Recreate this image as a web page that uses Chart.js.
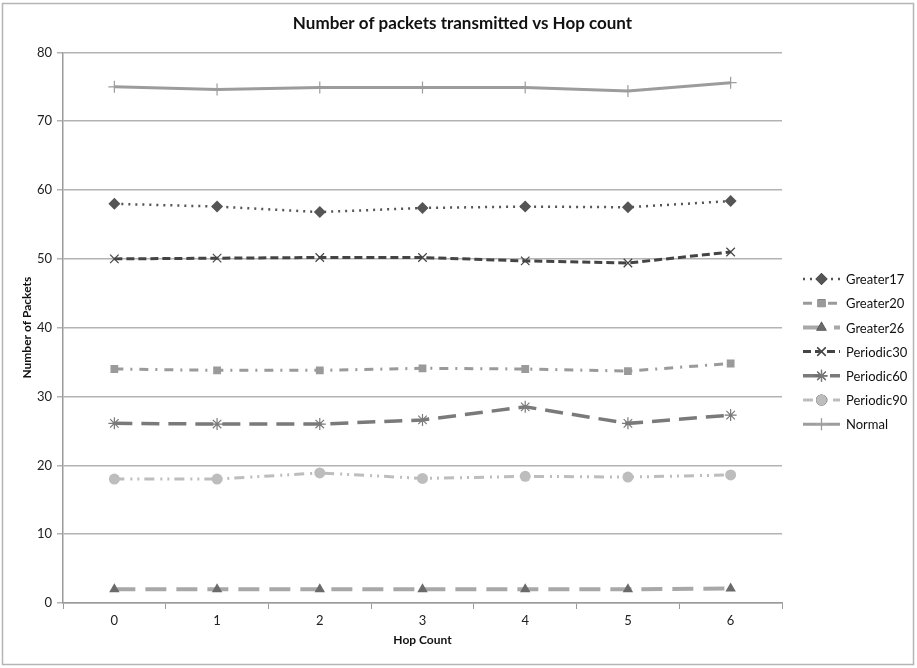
<!DOCTYPE html>
<html>
<head>
<meta charset="utf-8">
<script src="https://cdn.jsdelivr.net/npm/chart.js@4/dist/chart.umd.min.js"></script>
<style>
  html, body { margin: 0; padding: 0; background: #fff; }
  #wrap { width: 917px; height: 668px; position: relative; }
</style>
</head>
<body>
<div id="wrap"><canvas id="hopChart" width="917" height="668"></canvas></div>
<script>
  // data
  const hopCounts = ['0', '1', '2', '3', '4', '5', '6'];
  const greater17 = [58, 57.6, 56.8, 57.4, 57.6, 57.5, 58.4];
  const greater20 = [34, 33.8, 33.8, 34.1, 34, 33.7, 34.8];
  const greater26 = [2, 2, 2, 2, 2, 2, 2.1];
  const periodic30 = [50, 50.1, 50.2, 50.2, 49.7, 49.4, 51];
  const periodic60 = [26.1, 26, 26, 26.6, 28.5, 26.1, 27.3];
  const periodic90 = [18, 18, 18.9, 18.1, 18.4, 18.3, 18.6];
  const normal = [75, 74.6, 74.9, 74.9, 74.9, 74.4, 75.6];
  const yTicks = [0, 10, 20, 30, 40, 50, 60, 70, 80];

  const FONT = 'Lato, "Open Sans", sans-serif';

  function series(label, data, color, dash, width, style, radius, markerColor) {
    return {
      label: label,
      data: data,
      borderColor: color,
      backgroundColor: markerColor || color,
      borderWidth: width,
      borderDash: dash,
      tension: 0,
      pointStyle: style,
      pointRadius: radius,
      pointBackgroundColor: markerColor || color,
      pointBorderColor: markerColor || color,
      pointBorderWidth: (style === 'crossRot' || style === 'star' || style === 'cross') ? 1.2 : 0
    };
  }

  const datasets = [
    series('Greater17', greater17, '#555555', [2, 5], 2.5, 'rectRot', 6),
    series('Greater20', greater20, '#9a9a9a', [9, 7, 2, 7], 3, 'rect', 5.5),
    series('Greater26', greater26, '#a8a8a8', [21, 10], 4, 'triangle', 6, '#6a6a6a'),
    series('Periodic30', periodic30, '#444444', [8, 4], 3, 'crossRot', 6),
    series('Periodic60', periodic60, '#7a7a7a', [18, 9], 3.5, 'star', 6),
    series('Periodic90', periodic90, '#bdbdbd', [10, 6, 2, 5, 2, 5], 3, 'circle', 5.5),
    series('Normal', normal, '#9c9c9c', [], 3, 'cross', 6)
  ];

  // outer frame and the side legend (line + marker, like the spreadsheet legend)
  const framePlugin = {
    id: 'frame',
    afterDraw(chart) {
      const ctx = chart.ctx;
      ctx.save();
      ctx.strokeStyle = '#b5b5b5';
      ctx.lineWidth = 1.5;
      ctx.strokeRect(2.5, 3.5, 911, 661);

      const x0 = 803, x1 = 840, top = 279, step = 24.2;
      chart.data.datasets.forEach(function(ds, i) {
        const y = top + i * step;
        ctx.save();
        ctx.strokeStyle = ds.borderColor;
        ctx.lineWidth = ds.borderWidth;
        ctx.setLineDash(ds.borderDash);
        ctx.beginPath();
        ctx.moveTo(x0, y);
        ctx.lineTo(x1, y);
        ctx.stroke();
        ctx.restore();
        Chart.helpers.drawPoint(ctx, {
          pointStyle: ds.pointStyle,
          radius: ds.pointRadius,
          rotation: 0,
          borderWidth: ds.pointBorderWidth
        }, (x0 + x1) / 2, y);
        ctx.fillStyle = ds.pointBackgroundColor;
        ctx.strokeStyle = ds.pointBorderColor;
        ctx.lineWidth = ds.pointBorderWidth;
        ctx.fill();
        if (ds.pointBorderWidth) ctx.stroke();
        ctx.fillStyle = '#111';
        ctx.font = '13px ' + FONT;
        ctx.textBaseline = 'middle';
        ctx.fillText(ds.label, 846, y + 1);
      });
      ctx.restore();
    }
  };

  const ctx = document.getElementById('hopChart').getContext('2d');
  new Chart(ctx, {
    type: 'line',
    data: { labels: hopCounts, datasets: datasets },
    plugins: [framePlugin],
    options: {
      responsive: false,
      animation: false,
      layout: { padding: { left: 8, right: 0, top: 8, bottom: 14 } },
      plugins: {
        legend: { display: false },
        tooltip: { enabled: false },
        title: {
          display: true,
          text: 'Number of packets transmitted vs Hop count',
          color: '#111',
          font: { family: FONT, size: 17, weight: 'bold' },
          padding: { top: 5, bottom: 19 }
        }
      },
      scales: {
        x: {
          offset: true,
          grid: { drawOnChartArea: false, drawTicks: true, tickLength: 6, color: '#9a9a9a', offset: true },
          border: { color: '#9a9a9a', width: 1.5 },
          ticks: { color: '#222', font: { family: FONT, size: 13 }, padding: 4 },
          title: { display: true, text: 'Hop Count', color: '#111', font: { family: FONT, size: 12, weight: 'bold' }, padding: { top: 1, bottom: 7 } },
          afterFit(scale) { scale.height = 51; }
        },
        y: {
          min: 0,
          max: 80,
          afterBuildTicks(scale) { scale.ticks = yTicks.map(v => ({ value: v })); },
          grid: { color: '#b3b3b3', lineWidth: 1.5, tickLength: 6 },
          border: { color: '#9a9a9a', width: 1.5 },
          ticks: { color: '#222', font: { family: FONT, size: 13 }, padding: 5 },
          title: { display: true, text: 'Number of Packets', color: '#111', font: { family: FONT, size: 12, weight: 'bold' }, padding: { top: 12, bottom: 2 } },
          afterFit(scale) { scale.width = 55; }
        },
        // empty right-hand axis that reserves the legend column
        legendSpace: {
          type: 'linear',
          position: 'right',
          grid: { display: false },
          border: { display: false },
          ticks: { display: false },
          afterFit(scale) { scale.width = 135; }
        }
      }
    }
  });
</script>
</body>
</html>
